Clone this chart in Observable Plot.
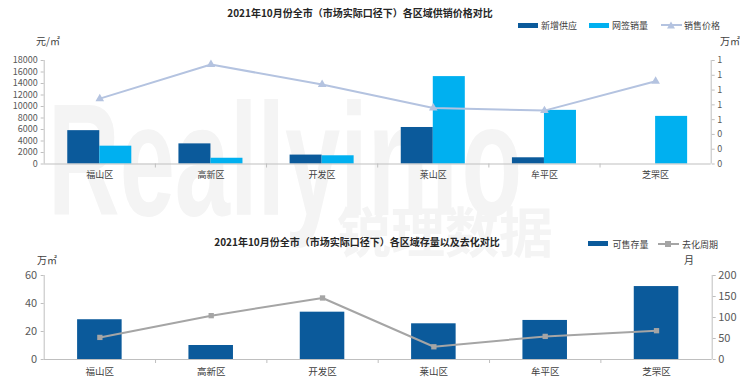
<!DOCTYPE html>
<html>
<head>
<meta charset="utf-8">
<script src="https://cdn.jsdelivr.net/npm/d3@7"></script>
<script src="https://cdn.jsdelivr.net/npm/@observablehq/plot@0.6"></script>
<style>
  html, body { margin: 0; padding: 0; background: #fff; }
  #wrap { position: relative; width: 740px; height: 389px; overflow: hidden; background: #fff;
          font-family: "Noto Sans CJK SC", "Noto Sans", sans-serif; color: #595959; }
  .abs { position: absolute; white-space: nowrap; line-height: 1; }
  .title { font-size: 10px; font-weight: bold; color: #262626; transform: translate(-50%, -50%); }
  .leg { font-size: 9px; color: #404040; transform: translateY(-50%); }
  .unit { font-size: 10px; color: #404040; transform: translateY(-50%); }
  .wm { color: #f4f4f4; font-weight: bold; font-family: "Liberation Sans", sans-serif; }
  .chart { position: absolute; left: 0; }
</style>
</head>
<body>
<div id="wrap">
  <div class="abs wm" style="left:48px; top:80px; font-size:160px; transform-origin:left top; transform:scaleX(0.62);">Reallyinfo</div>
  <div class="abs wm" style="left:337px; top:203px; font-size:54px; font-family:'Noto Sans CJK SC';">锐理数据</div>

  <div id="top" class="chart" style="top:50px;"></div>
  <div id="bottom" class="chart" style="top:265px;"></div>

  <div id="t1" class="abs title" style="left:360px; top:13px;"></div>
  <div id="t2" class="abs title" style="left:357px; top:242px;"></div>

  <div id="u1" class="abs unit" style="left:36px; top:41px;"></div>
  <div id="u2" class="abs unit" style="left:720px; top:41px;"></div>
  <div id="u3" class="abs unit" style="left:37px; top:260px;"></div>
  <div id="u4" class="abs unit" style="left:684px; top:260px;"></div>

  <div id="leg1"></div>
  <div id="leg2"></div>
</div>
<script>
// ---- data ----
const categories = ["福山区", "高新区", "开发区", "莱山区", "牟平区", "芝罘区"];
const newSupply = [5800, 3500, 1550, 6350, 1080, 0];          // left axis
const netSales  = [3100, 1000, 1430, 15200, 9330, 8280];
const salePrice = [0.884, 1.346, 1.074, 0.757, 0.722, 1.119]; // right axis (万)
const stock     = [28.4, 10, 33.8, 25.5, 27.9, 52.1];          // 万㎡
const cycle     = [52.6, 104.4, 146.5, 30.3, 55, 68.6];        // 月

const topLeftTicks  = [0, 2000, 4000, 6000, 8000, 10000, 12000, 14000, 16000, 18000];
const topRightTicks = [0, 0.2, 0.4, 0.6, 0.8, 1.0, 1.2, 1.4];
const botLeftTicks  = [0, 20, 40, 60];
const botRightTicks = [0, 50, 100, 150, 200];

const title1 = "2021年10月份全市（市场实际口径下）各区域供销价格对比";
const title2 = "2021年10月份全市（市场实际口径下）各区域存量以及去化对比";
const seriesTop = ["新增供应", "网签销量", "销售价格"];
const seriesBot = ["可售存量", "去化周期"];
const units = ["元/㎡", "万㎡", "万㎡", "月"];

// ---- styles ----
const C_DARK = "#0B5A9B", C_CYAN = "#00B0F0", C_PRICE = "#B4C3E0", C_GRAY = "#A5A5A5", C_AXIS = "#BFBFBF";
const FONT = '"Noto Sans CJK SC", "Noto Sans", sans-serif';

document.getElementById("t1").textContent = title1;
document.getElementById("t2").textContent = title2;
["u1","u2","u3","u4"].forEach((id, i) => document.getElementById(id).textContent = units[i]);

const idx = categories.map((_, i) => i);
const bounds = [0.5, 1.5, 2.5, 3.5, 4.5];

// top chart
const topMax = 18000, topRMax = 1.4, k1 = topMax / topRMax;
const topPlot = Plot.plot({
  width: 740, height: 132,
  marginTop: 10, marginBottom: 18.5, marginLeft: 43.7, marginRight: 29.3,
  x: { domain: [-0.5, 5.5], axis: null },
  y: { domain: [0, topMax], axis: null },
  style: { fontFamily: FONT, fontSize: "9px", color: "#595959", background: "transparent", overflow: "visible" },
  marks: [
    Plot.rectY(idx, { x1: i => i - 0.288, x2: i => i, y: i => newSupply[i], fill: C_DARK }),
    Plot.rectY(idx, { x1: i => i, x2: i => i + 0.288, y: i => netSales[i], fill: C_CYAN }),
    Plot.ruleY([0], { stroke: C_AXIS, strokeWidth: 1.2 }),
    Plot.ruleX([-0.5], { stroke: C_AXIS }),
    Plot.ruleX([5.5], { stroke: C_AXIS }),
    Plot.line(idx, { x: i => i, y: i => salePrice[i] * k1, stroke: C_PRICE, strokeWidth: 2 }),
    Plot.dot(idx, { x: i => i, y: i => salePrice[i] * k1, symbol: "triangle", r: 3.2, fill: C_PRICE }),
    Plot.axisY({ ticks: topLeftTicks, tickFormat: d => String(d), tickSize: 3, tickPadding: 3.5, label: null, stroke: C_AXIS, fill: "#595959" }),
    Plot.axisY({ anchor: "right", ticks: topRightTicks.map(v => v * k1), tickFormat: d => String(Math.round(d / k1)), tickSize: 3, tickPadding: 3, label: null, stroke: C_AXIS, fill: "#595959" }),
    Plot.axisX({ ticks: idx, tickFormat: i => categories[i], tickSize: 0, tickPadding: 7.5, label: null, fill: "#404040" }),
    Plot.axisX({ ticks: bounds, tickFormat: () => "", tickSize: 4, label: null, stroke: C_AXIS })
  ]
});
document.getElementById("top").appendChild(topPlot);

// bottom chart
const botMax = 60, botRMax = 200, k2 = botMax / botRMax;
const botPlot = Plot.plot({
  width: 740, height: 124,
  marginTop: 10, marginBottom: 30, marginLeft: 43.7, marginRight: 28.3,
  x: { domain: [-0.5, 5.5], axis: null },
  y: { domain: [0, botMax], axis: null },
  style: { fontFamily: FONT, fontSize: "9.5px", color: "#595959", background: "transparent", overflow: "visible" },
  marks: [
    Plot.rectY(idx, { x1: i => i - 0.2, x2: i => i + 0.2, y: i => stock[i], fill: C_DARK }),
    Plot.ruleY([0], { stroke: C_AXIS, strokeWidth: 1.2 }),
    Plot.ruleX([-0.5], { stroke: C_AXIS }),
    Plot.ruleX([5.5], { stroke: C_AXIS }),
    Plot.line(idx, { x: i => i, y: i => cycle[i] * k2, stroke: C_GRAY, strokeWidth: 2 }),
    Plot.dot(idx, { x: i => i, y: i => cycle[i] * k2, symbol: "square", r: 3, fill: C_GRAY }),
    Plot.axisY({ ticks: botLeftTicks, tickFormat: d => String(d), tickSize: 3, tickPadding: 4, label: null, stroke: C_AXIS, fill: "#595959", fontSize: 11 }),
    Plot.axisY({ anchor: "right", ticks: botRightTicks.map(v => v * k2), tickFormat: d => String(Math.round(d / k2)), tickSize: 3, tickPadding: 3, label: null, stroke: C_AXIS, fill: "#595959", fontSize: 11 }),
    Plot.axisX({ ticks: idx, tickFormat: i => categories[i], tickSize: 0, tickPadding: 8.5, label: null, fill: "#404040" }),
    Plot.axisX({ ticks: bounds, tickFormat: () => "", tickSize: 4, label: null, stroke: C_AXIS })
  ]
});
document.getElementById("bottom").appendChild(botPlot);

// legends
function swatch(x, y, color) {
  return `<div class="abs" style="left:${x}px; top:${y - 2.5}px; width:20px; height:5px; background:${color};"></div>`;
}
function lineSw(x, y, color, shape) {
  const m = shape === "triangle"
    ? `<polygon points="10,0.5 14,7.5 6,7.5" fill="${color}"/>`
    : `<rect x="7" y="1" width="6" height="6" fill="${color}"/>`;
  return `<svg class="abs" style="left:${x}px; top:${y - 4}px;" width="21" height="8"><line x1="0" x2="21" y1="4" y2="4" stroke="${color}" stroke-width="2"/>${m}</svg>`;
}
function label(x, y, t) { return `<div class="abs leg" style="left:${x}px; top:${y}px;">${t}</div>`; }

document.getElementById("leg1").innerHTML =
  swatch(518, 25, C_DARK) + label(541, 25, seriesTop[0]) +
  swatch(589, 25, C_CYAN) + label(612, 25, seriesTop[1]) +
  lineSw(661, 25, C_PRICE, "triangle") + label(684, 25, seriesTop[2]);
document.getElementById("leg2").innerHTML =
  swatch(588, 243.5, C_DARK) + label(612.5, 243.5, seriesBot[0]) +
  lineSw(658, 243.5, C_GRAY, "square") + label(682, 243.5, seriesBot[1]);
</script>
</body>
</html>
